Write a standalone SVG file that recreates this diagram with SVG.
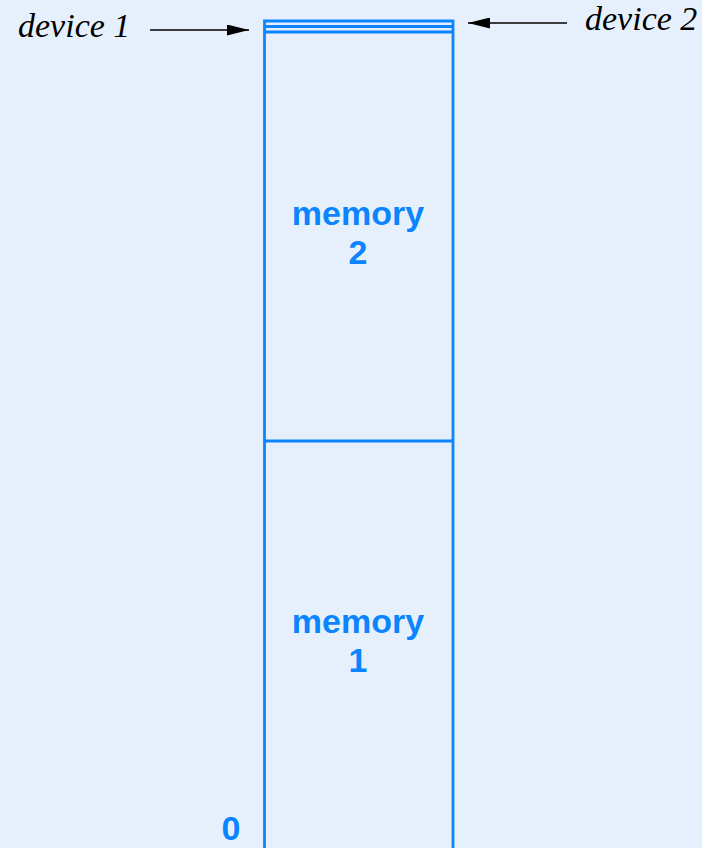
<svg xmlns="http://www.w3.org/2000/svg" width="702" height="848" viewBox="0 0 702 848">
<style>
.col{fill:none;stroke:#0a84ff;stroke-width:2.8}
.mem{font-family:"Liberation Sans",Arial,sans-serif;font-weight:bold;font-size:34px;fill:#0a84ff;text-anchor:middle}
.dev{font-family:"Liberation Serif","Times New Roman",serif;font-style:italic;font-size:34px;fill:#000}
.arr{stroke:#000;stroke-width:1.6;fill:none}
</style>
<defs>
<marker id="ah" markerWidth="22" markerHeight="11" refX="22" refY="5.5" orient="auto" markerUnits="userSpaceOnUse">
<path d="M0,0 L22,5.5 L0,11 Z" fill="#000"/>
</marker>
</defs>
<rect width="702" height="848" fill="#e6f0fc"/>
<g id="column">
<path class="col" d="M264.5,850 V21 H453 V850"/>
<line class="col" x1="264.5" y1="26.5" x2="453" y2="26.5"/>
<line class="col" x1="264.5" y1="32" x2="453" y2="32"/>
</g>
<g id="memory2">
<text class="mem" x="358" y="225">memory</text>
<text class="mem" x="358" y="264">2</text>
</g>
<g id="memory1">
<line class="col" x1="264.5" y1="441" x2="453" y2="441"/>
<text class="mem" x="358" y="633">memory</text>
<text class="mem" x="358" y="672">1</text>
</g>
<g id="zero">
<text class="mem" x="231" y="840">0</text>
</g>
<g id="device1">
<text class="dev" x="18" y="37">device 1</text>
</g>
<g id="device2">
<text class="dev" x="585" y="30">device 2</text>
</g>
<g id="connectors">
<line class="arr" x1="150" y1="30" x2="249" y2="30" marker-end="url(#ah)"/>
<line class="arr" x1="567" y1="23" x2="468" y2="23" marker-end="url(#ah)"/>
</g>
</svg>
